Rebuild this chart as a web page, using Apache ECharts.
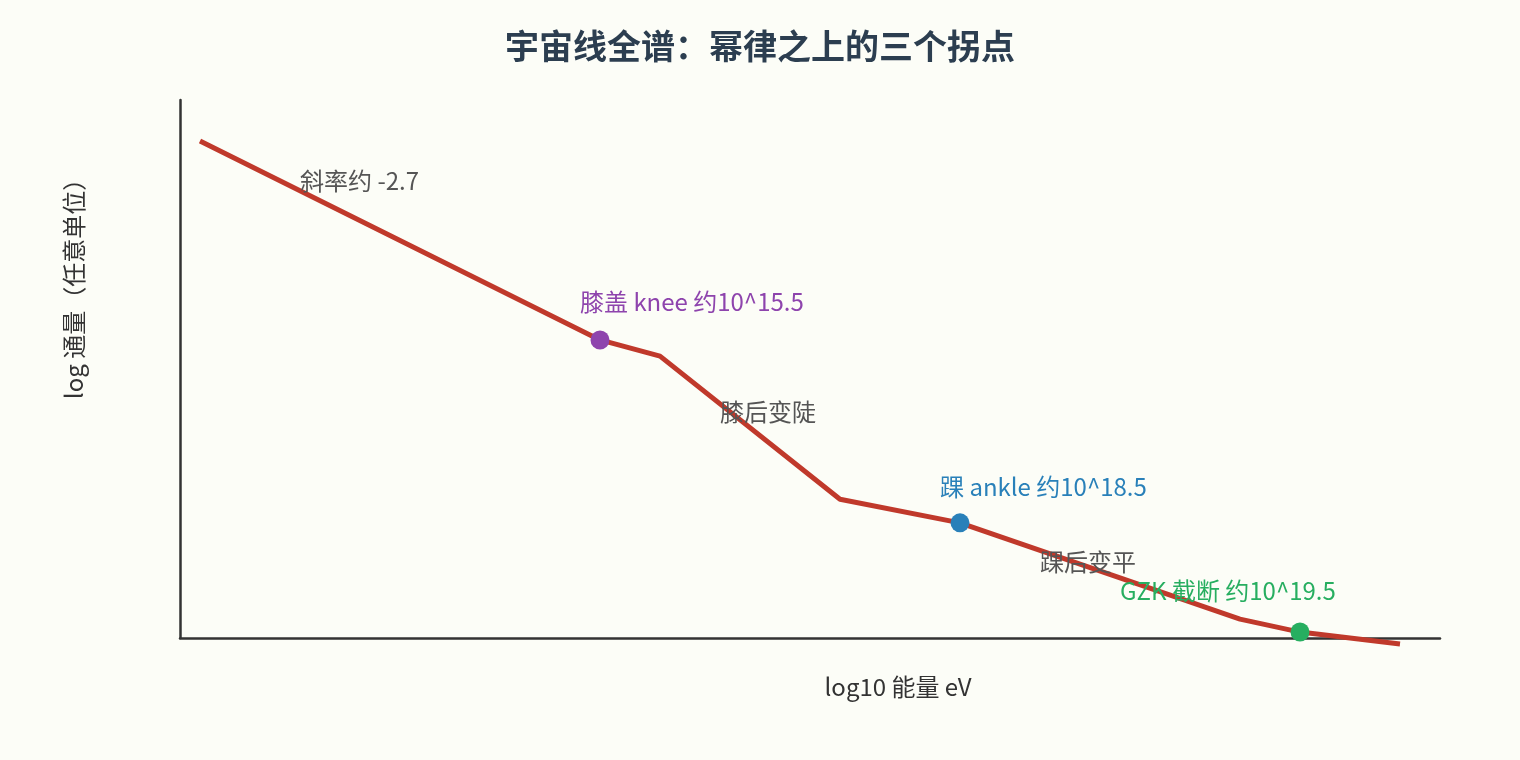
<!DOCTYPE html>
<html>
<head>
<meta charset="utf-8">
<title>宇宙线全谱</title>
<script src="https://cdn.jsdelivr.net/npm/echarts@6/dist/echarts.min.js"></script>
<style>
  html, body { margin: 0; padding: 0; background: #fcfdf7; }
  #chart { width: 1520px; height: 760px; }
</style>
</head>
<body>
<div id="chart"></div>
<script>
// 折线：x 为横轴位置（任意单位），y 为 log 通量（任意单位）
var spectrumX = [1, 21, 24, 33, 39, 53, 56, 61];
var spectrumY = [92.4, 55.4, 52.4, 25.8, 21.4, 3.5, 1.1, -1.1];

// 三个拐点
var kneeNames = ['膝盖 knee 约10^15.5', '踝 ankle 约10^18.5', 'GZK 截断 约10^19.5'];
var kneeX = [21, 39, 56];
var kneeY = [55.4, 21.4, 1.1];
var kneeColors = ['#8e44ad', '#2980b9', '#27ae60'];

// 文字注释（左端位置）
var noteTexts = ['斜率约 -2.7', '膝后变陡', '踝后变平'];
var noteX = [6, 27, 43];
var noteY = [84.9, 42.0, 14.1];

// 拐点标签（左端位置）
var labelX = [20, 38, 47];
var labelY = [62.5, 28.1, 8.7];

var chart = echarts.init(document.getElementById('chart'));

var lineData = [];
for (var i = 0; i < spectrumX.length; i++) {
    lineData.push([spectrumX[i], spectrumY[i]]);
}

var kneeData = [];
for (var j = 0; j < kneeX.length; j++) {
    kneeData.push({
        value: [kneeX[j], kneeY[j]],
        itemStyle: { color: kneeColors[j], opacity: 1 }
    });
}

var noteData = [];
for (var k = 0; k < noteTexts.length; k++) {
    noteData.push({ name: noteTexts[k], value: [noteX[k], noteY[k]] });
}
for (var m = 0; m < kneeNames.length; m++) {
    noteData.push({
        name: kneeNames[m],
        value: [labelX[m], labelY[m]],
        label: { color: kneeColors[m] }
    });
}

var fontFamily = '"Noto Sans CJK SC", "Noto Sans", sans-serif';

var option = {
    backgroundColor: '#fcfdf7',
    animation: false,
    textStyle: { fontFamily: fontFamily },
    title: {
        text: '宇宙线全谱：幂律之上的三个拐点',
        left: 'center',
        top: 24,
        textStyle: { fontSize: 34, fontWeight: 'bold', color: '#2c3e50', fontFamily: fontFamily }
    },
    grid: { left: 180, right: 80, top: 100, bottom: 122 },
    xAxis: {
        type: 'value',
        min: 0,
        max: 63,
        name: 'log10 能量 eV',
        nameLocation: 'middle',
        nameGap: 37,
        nameTextStyle: { fontSize: 24, color: '#333', padding: [0, 0, 0, 176] },
        axisLine: { show: true, lineStyle: { color: '#333', width: 2.5 } },
        axisTick: { show: false },
        axisLabel: { show: false },
        splitLine: { show: false }
    },
    yAxis: {
        type: 'value',
        min: 0,
        max: 100,
        name: 'log 通量（任意单位）',
        nameLocation: 'middle',
        nameGap: 94,
        nameTextStyle: { fontSize: 24, color: '#333', padding: [0, 0, 0, 172] },
        axisLine: { show: true, lineStyle: { color: '#333', width: 2.5 } },
        axisTick: { show: false },
        axisLabel: { show: false },
        splitLine: { show: false }
    },
    series: [
        {
            type: 'line',
            data: lineData,
            clip: false,
            showSymbol: false,
            symbol: 'none',
            lineStyle: { color: '#c0392b', width: 5 },
            z: 2
        },
        {
            type: 'scatter',
            data: kneeData,
            symbolSize: 19,
            itemStyle: { opacity: 1 },
            z: 3
        },
        {
            type: 'scatter',
            data: noteData,
            symbolSize: 0,
            silent: true,
            itemStyle: { opacity: 1 },
            label: {
                show: true,
                position: 'right',
                distance: 0,
                formatter: '{b}',
                fontSize: 24,
                color: '#555',
                fontFamily: fontFamily
            },
            z: 4
        }
    ]
};

chart.setOption(option);
</script>
</body>
</html>
